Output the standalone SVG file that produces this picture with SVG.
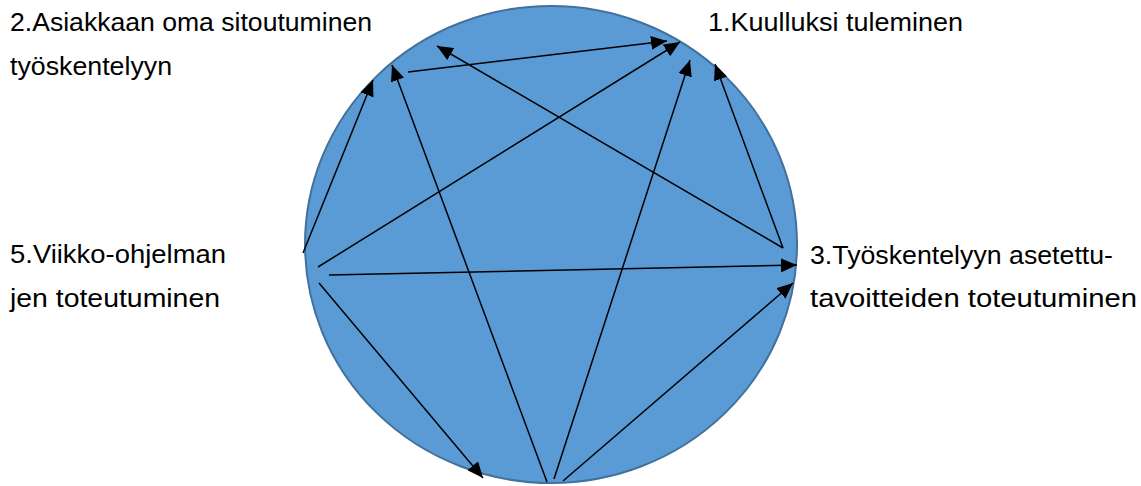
<svg xmlns="http://www.w3.org/2000/svg" width="1141" height="486" viewBox="0 0 1141 486">
<style>
.lbl{font-family:"Liberation Sans",Arial,sans-serif;font-size:25px;fill:#000}
.c{stroke:#000;stroke-width:1.5;fill:none;marker-end:url(#ah)}
</style>
<defs>
<marker id="ah" markerUnits="userSpaceOnUse" markerWidth="16" markerHeight="14" refX="16" refY="7" orient="auto">
<path d="M0,0 L16,7 L0,14 z" fill="#000"/>
</marker>
</defs>
<rect width="1141" height="486" fill="#fff"/>
<g id="circle">
<ellipse cx="551" cy="244.5" rx="246" ry="238.5" fill="#5B9BD5" stroke="#41719C" stroke-width="2"/>
</g>
<g id="connectors">
<line class="c" x1="408" y1="72" x2="667" y2="41"/>
<line class="c" x1="783" y1="248" x2="437" y2="46"/>
<line class="c" x1="303" y1="253" x2="373" y2="80"/>
<line class="c" x1="318" y1="267" x2="680" y2="42"/>
<line class="c" x1="329" y1="275" x2="797" y2="265"/>
<line class="c" x1="319" y1="283" x2="483" y2="478"/>
<line class="c" x1="547" y1="482" x2="392" y2="65"/>
<line class="c" x1="554" y1="479" x2="690" y2="60"/>
<line class="c" x1="563" y1="481" x2="793" y2="283"/>
<line class="c" x1="783" y1="248" x2="715" y2="64"/>
</g>
<g id="node1">
<text class="lbl" x="708" y="31" textLength="255" lengthAdjust="spacingAndGlyphs">1.Kuulluksi tuleminen</text>
</g>
<g id="node2">
<text class="lbl" x="10" y="31" textLength="362" lengthAdjust="spacingAndGlyphs">2.Asiakkaan oma sitoutuminen</text>
<text class="lbl" x="10" y="75" textLength="162" lengthAdjust="spacingAndGlyphs">työskentelyyn</text>
</g>
<g id="node3">
<text class="lbl" x="810" y="264" textLength="303" lengthAdjust="spacingAndGlyphs">3.Työskentelyyn asetettu-</text>
<text class="lbl" x="810" y="307" textLength="327" lengthAdjust="spacingAndGlyphs">tavoitteiden toteutuminen</text>
</g>
<g id="node5">
<text class="lbl" x="10" y="263" textLength="216" lengthAdjust="spacingAndGlyphs">5.Viikko-ohjelman</text>
<text class="lbl" x="10" y="307" textLength="210" lengthAdjust="spacingAndGlyphs">jen toteutuminen</text>
</g>
</svg>
